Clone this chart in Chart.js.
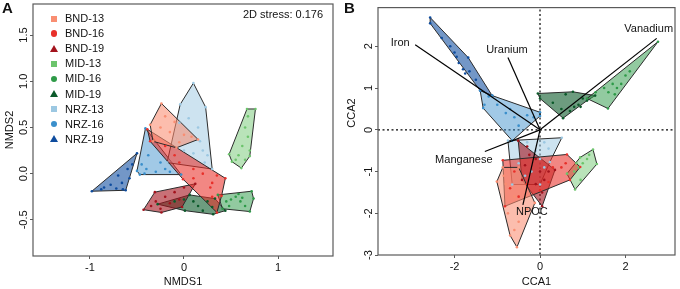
<!DOCTYPE html>
<html><head><meta charset="utf-8">
<script src="https://cdn.jsdelivr.net/npm/chart.js@4"></script>
<style>
body{margin:0;background:#fff;width:680px;height:289px;overflow:hidden;position:relative;font-family:"Liberation Sans",Arial,sans-serif;color:#111}
canvas{position:absolute;top:0}
#cA{left:0}#cB{left:340px}
.t{position:absolute;font-size:11px;white-space:nowrap;line-height:13px}
.pl{position:absolute;font-size:15px;font-weight:bold;line-height:15px}
.mk{position:absolute}
</style></head><body>
<canvas id="cA" width="340" height="289"></canvas>
<canvas id="cB" width="340" height="289"></canvas>
<div class="pl" style="left:2px;top:0px">A</div>
<div class="pl" style="left:344px;top:0px">B</div>
<div class="t" style="left:243px;top:8px">2D stress: 0.176</div>
<div id="legend"></div>
<script>
// ---------- tick labels ----------
const xTicksA = [-1, 0, 1];
const yTicksA = [-0.5, 0, 0.5, 1, 1.5];
const xTicksB = [-2, 0, 2];
const yTicksB = [-3, -2, -1, 0, 1, 2];

// ---------- groups ----------
const groupNames = ['BND-13','BND-16','BND-19','MID-13','MID-16','MID-19','NRZ-13','NRZ-16','NRZ-19'];
const groupShapes = ['rect','circle','triangle','rect','circle','triangle','rect','circle','triangle'];
const groupColors = ['#F98E72','#E8302A','#A3131D','#6CC46C','#2E9A48','#0B5A2A','#9CC8E2','#3A8FCB','#0E4C9E'];
const groupFills = ['rgba(249,142,114,0.58)','rgba(232,48,42,0.58)','rgba(163,19,29,0.6)','rgba(108,196,108,0.48)','rgba(46,154,72,0.52)','rgba(11,90,42,0.6)','rgba(156,200,226,0.5)','rgba(58,143,203,0.48)','rgba(14,76,158,0.58)'];

// ---------- Panel A (NMDS) hulls and points ----------
const A_BND13_hull = [[-0.24,0.76],[0.15,0.37],[-0.08,0.28],[-0.33,0.35],[-0.36,0.53]];
const A_BND13_pts  = [[-0.2,0.62],[-0.25,0.5],[-0.15,0.45],[-0.1,0.56],[0.0,0.42],[-0.05,0.34],[0.08,0.4]];
const A_BND16_hull = [[-0.39,0.48],[0.44,-0.05],[0.40,-0.24],[0.35,-0.42],[-0.01,-0.06],[-0.36,0.35]];
const A_BND16_pts  = [[-0.2,0.3],[-0.1,0.2],[0.1,0.05],[0.2,0.0],[0.3,-0.1],[0.35,-0.02],[0.3,-0.25],[0.1,-0.05],[-0.05,0.12],[0.28,-0.15]];
const A_BND19_hull = [[-0.31,-0.20],[0.12,-0.11],[-0.02,-0.36],[-0.24,-0.42],[-0.43,-0.39]];
const A_BND19_pts  = [[-0.35,-0.35],[-0.3,-0.3],[-0.2,-0.25],[-0.1,-0.2],[-0.05,-0.28],[-0.25,-0.38],[0.0,-0.15],[-0.15,-0.32]];
const A_MID13_hull = [[0.67,0.70],[0.76,0.70],[0.70,0.19],[0.61,0.06],[0.51,0.13],[0.48,0.21]];
const A_MID13_pts  = [[0.68,0.62],[0.65,0.5],[0.68,0.4],[0.62,0.3],[0.58,0.2],[0.65,0.15],[0.7,0.25],[0.55,0.15]];
const A_MID16_hull = [[0.36,-0.23],[0.72,-0.19],[0.74,-0.27],[0.70,-0.41],[0.41,-0.38]];
const A_MID16_pts  = [[0.45,-0.3],[0.5,-0.28],[0.55,-0.25],[0.6,-0.3],[0.65,-0.35],[0.58,-0.22],[0.48,-0.35],[0.62,-0.26]];
const A_MID19_hull = [[-0.28,-0.33],[0.06,-0.23],[0.33,-0.27],[0.44,-0.40],[0.31,-0.44],[0.01,-0.40]];
const A_MID19_pts  = [[-0.1,-0.3],[0.0,-0.28],[0.1,-0.3],[0.15,-0.35],[0.25,-0.3],[0.2,-0.4],[0.3,-0.36]];
const A_NRZ13_hull = [[0.10,0.98],[0.23,0.72],[0.30,0.05],[-0.18,0.12],[-0.04,0.75]];
const A_NRZ13_pts  = [[0.05,0.6],[0.15,0.5],[0.2,0.25],[0.25,0.2],[0.1,0.22],[0.0,0.25],[0.22,0.12],[-0.05,0.55],[0.17,0.35]];
const A_NRZ16_hull = [[-0.41,0.49],[-0.50,0.03],[-0.47,-0.01],[-0.03,-0.01]];
const A_NRZ16_pts  = [[-0.45,0.1],[-0.4,0.05],[-0.38,0.2],[-0.3,0.02],[-0.2,0.05],[-0.15,0.02],[-0.42,0.0],[-0.25,0.12]];
const A_NRZ19_hull = [[-0.98,-0.19],[-0.50,0.22],[-0.62,-0.18]];
const A_NRZ19_pts  = [[-0.85,-0.15],[-0.78,-0.12],[-0.72,-0.16],[-0.66,-0.1],[-0.7,-0.02],[-0.6,0.05],[-0.58,-0.05],[-0.55,0.1],[-0.88,-0.17],[-0.65,-0.17]];

// ---------- Panel B (CCA) hulls and points ----------
const B_BND13_hull = [[-0.87,-0.9],[-1.01,-1.24],[-0.70,-2.53],[-0.54,-2.81],[-0.12,-1.75],[-0.5,-0.9]];
const B_BND13_pts  = [[-0.8,-1.3],[-0.6,-1.6],[-0.75,-2.0],[-0.5,-2.2],[-0.6,-2.4],[-0.3,-1.9],[-0.85,-1.1]];
const B_BND16_hull = [[-0.87,-0.73],[0.63,-0.59],[0.94,-0.89],[0.70,-1.20],[-0.82,-1.83]];
const B_BND16_pts  = [[-0.6,-1.0],[-0.3,-1.3],[0.3,-0.9],[0.5,-0.9],[0.6,-0.8],[-0.5,-1.6],[0.0,-1.45],[-0.7,-1.4],[0.2,-1.25]];
const B_BND19_hull = [[-0.51,-0.26],[0.35,-0.96],[0.05,-1.83],[-0.42,-1.2]];
const B_BND19_pts  = [[-0.3,-0.4],[-0.25,-0.6],[-0.1,-0.7],[-0.35,-0.85],[0.0,-1.0],[0.1,-1.2],[-0.1,-1.3],[0.2,-1.0],[0.05,-1.5]];
const B_MID13_hull = [[0.63,-1.05],[0.94,-0.66],[1.24,-0.47],[1.33,-0.82],[0.82,-1.43]];
const B_MID13_pts  = [[0.8,-1.0],[0.9,-0.9],[1.0,-0.8],[1.1,-0.7],[1.15,-0.6],[0.95,-1.2],[0.85,-0.8]];
const B_MID16_hull = [[2.76,2.11],[1.59,0.51],[1.10,0.75]];
const B_MID16_pts  = [[1.5,1.0],[1.7,1.1],[1.9,1.1],[1.8,1.0],[2.0,1.3],[1.6,0.9],[1.75,0.85],[2.1,1.4],[1.3,0.9]];
const B_MID19_hull = [[-0.05,0.87],[0.77,0.91],[1.29,0.82],[1.10,0.70],[0.54,0.28],[0,0.75]];
const B_MID19_pts  = [[0.3,0.65],[0.6,0.85],[0.8,0.55],[0.9,0.6],[0.7,0.45],[1.0,0.75],[0.5,0.5],[0.95,0.55]];
const B_NRZ13_hull = [[-0.75,-0.26],[0.51,-0.19],[0.23,-0.77],[0,-1.31],[-0.65,-1.31]];
const B_NRZ13_pts  = [[-0.3,-0.3],[0.1,-0.3],[0.2,-0.45],[-0.1,-0.5],[0.0,-0.7],[-0.5,-0.8],[-0.2,-1.0],[0.1,-0.9],[-0.35,-1.1]];
const B_NRZ16_hull = [[-1.40,0.94],[-1.12,0.82],[0,0.42],[0,0.33],[-0.65,-0.26],[-1.33,0.52]];
const B_NRZ16_pts  = [[-1.2,0.8],[-1.3,0.6],[-1.0,0.6],[-0.8,0.4],[-0.6,0.3],[-0.3,0.35],[-0.15,0.3],[-0.5,0.1],[-0.7,0.5]];
const B_NRZ19_hull = [[-2.57,2.69],[-1.68,1.73],[-1.12,0.82],[-1.40,0.94],[-2.57,2.55]];
const B_NRZ19_pts  = [[-2.3,2.2],[-2.1,2.0],[-1.95,1.75],[-1.9,1.6],[-1.8,1.45],[-1.65,1.4],[-1.75,1.35],[-2.0,1.85],[-1.5,1.2]];

// ---------- Panel B environmental vectors ----------
const envNames = ['Iron','Uranium','Vanadium','Manganese','NPOC'];
const envX = [-2.92, -0.75, 2.73, -1.29, -0.40];
const envY = [2.04, 1.73, 2.19, -0.52, -1.80];

const hullsA = [A_BND13_hull,A_BND16_hull,A_BND19_hull,A_MID13_hull,A_MID16_hull,A_MID19_hull,A_NRZ13_hull,A_NRZ16_hull,A_NRZ19_hull];
const ptsA   = [A_BND13_pts,A_BND16_pts,A_BND19_pts,A_MID13_pts,A_MID16_pts,A_MID19_pts,A_NRZ13_pts,A_NRZ16_pts,A_NRZ19_pts];
const hullsB = [B_BND13_hull,B_BND16_hull,B_BND19_hull,B_MID13_hull,B_MID16_hull,B_MID19_hull,B_NRZ13_hull,B_NRZ16_hull,B_NRZ19_hull];
const ptsB   = [B_BND13_pts,B_BND16_pts,B_BND19_pts,B_MID13_pts,B_MID16_pts,B_MID19_pts,B_NRZ13_pts,B_NRZ16_pts,B_NRZ19_pts];

const toXY = a => a.map(p => ({x:p[0], y:p[1]}));
const FONT = '"Liberation Sans", Arial, sans-serif';

function groupDatasets(hulls, pts){
  const pointSets = [], polySets = [];
  hulls.forEach((h,i)=>{
    pointSets.push({data: toXY(h.concat(pts[i])), showLine:false, pointRadius:1.3, pointBackgroundColor:groupColors[i], pointBorderWidth:0});
    polySets.push({data: toXY(h.concat([h[0]])), showLine:true, fill:'shape', backgroundColor:groupFills[i], borderColor:'#2b2b2b', borderWidth:1, pointRadius:0, tension:0});
  });
  return pointSets.concat(polySets);
}

const boxPlugin = {id:'box', afterDatasetsDraw(chart){
  const {ctx, chartArea:a} = chart;
  ctx.save(); ctx.strokeStyle='#5a5a5a'; ctx.lineWidth=1.2;
  ctx.strokeRect(a.left, a.top, a.right-a.left, a.bottom-a.top); ctx.restore();
}};

const labelOffsets = [[-15,-2],[-1,-8],[-8,-9],[-21,8],[9,7]];
const envLabelPlugin = {id:'envlab', afterDatasetsDraw(chart){
  const {ctx, scales, chartArea:a} = chart;
  ctx.save(); ctx.font='11px ' + FONT; ctx.fillStyle='#111';
  ctx.textAlign='center'; ctx.textBaseline='middle';
  envNames.forEach((n,i)=>{
    const px = scales.x.getPixelForValue(envX[i]) + labelOffsets[i][0];
    const py = scales.y.getPixelForValue(envY[i]) + labelOffsets[i][1];
    ctx.fillText(n, px, py);
  });
  // axis titles
  ctx.fillText('CCA1', (a.left + a.right)/2 + 10, 282);
  ctx.translate(12, 113); ctx.rotate(-Math.PI/2); ctx.fillText('CCA2', 0, 0);
  ctx.restore();
}};

function axisCfg(ticksArr, min, max, isY, fitSize, pad, fmt){
  return {
    type:'linear', min, max,
    afterBuildTicks: s => { s.ticks = ticksArr.map(v=>({value:v})); },
    afterFit: s => { if(isY) s.width = fitSize; else s.height = fitSize; },
    grid:{display:true, drawOnChartArea:false, drawTicks:true, tickLength:3, color:'#5a5a5a', lineWidth:1},
    border:{display:false},
    ticks: Object.assign({color:'#111', font:{size:11, family:FONT}, padding:pad,
      callback: v => fmt(v)}, isY ? {minRotation:90, maxRotation:90, crossAlign:'center'} : {maxRotation:0})
  };
}

const baseOpts = {responsive:false, animation:false, events:[], plugins:{legend:{display:false}, tooltip:{enabled:false}}};

// ---------- Chart A ----------
const xA = axisCfg(xTicksA, -1.606, 1.585, false, 33, 2, v=>String(v));
xA.title = {display:true, text:'NMDS1', color:'#111', font:{size:11, family:FONT}, padding:{top:0,bottom:0}};
const yA = axisCfg(yTicksA, -0.891, 1.836, true, 33, -3.5, v=>v.toFixed(1));
yA.title = {display:true, text:'NMDS2', color:'#111', font:{size:11, family:FONT}, padding:{top:3,bottom:0}};
new Chart(document.getElementById('cA'), {
  type:'scatter',
  data:{datasets: groupDatasets(hullsA, ptsA)},
  options: Object.assign({}, baseOpts, {layout:{padding:{left:0,right:7,top:1,bottom:0}}, scales:{x:xA, y:yA}}),
  plugins:[boxPlugin]
});

// ---------- Chart B ----------
const arrowSets = envNames.map((n,i)=>({data:[{x:0,y:0},{x:envX[i],y:envY[i]}], showLine:true, borderColor:'#000', borderWidth:1.2, pointRadius:0, fill:false}));
const refLines = [
  {data:[{x:0,y:-3.2},{x:0,y:3.2}], showLine:true, borderColor:'#000', borderWidth:1.2, borderDash:[2,2.5], pointRadius:0, fill:false},
  {data:[{x:-4,y:0},{x:3.3,y:0}], showLine:true, borderColor:'#000', borderWidth:1.2, borderDash:[2,2.5], pointRadius:0, fill:false}
];
const xB = axisCfg(xTicksB, -3.79, 3.158, false, 34, 2, v=>String(v));
const yB = axisCfg(yTicksB, -2.998, 2.927, true, 38, 1, v=>String(v));
new Chart(document.getElementById('cB'), {
  type:'scatter',
  data:{datasets: arrowSets.concat(groupDatasets(hullsB, ptsB)).concat(refLines)},
  options: Object.assign({}, baseOpts, {layout:{padding:{left:0,right:5,top:2,bottom:0}}, scales:{x:xB, y:yB}}),
  plugins:[boxPlugin, envLabelPlugin]
});

// ---------- legend (panel A) ----------
const leg = document.getElementById('legend');
groupNames.forEach((n,i)=>{
  const cy = 18.5 + 15.1*i;
  const m = document.createElement('div'); m.className='mk';
  const c = groupColors[i];
  if(groupShapes[i]==='rect'){ m.style.cssText=`left:50.5px;top:${cy-3}px;width:6px;height:6px;background:${c}`; }
  else if(groupShapes[i]==='circle'){ m.style.cssText=`left:50.5px;top:${cy-3.25}px;width:6.5px;height:6.5px;border-radius:50%;background:${c}`; }
  else { m.style.cssText=`left:49.5px;top:${cy-4}px;width:0;height:0;border-left:4px solid transparent;border-right:4px solid transparent;border-bottom:7px solid ${c}`; }
  leg.appendChild(m);
  const t = document.createElement('div'); t.className='t'; t.textContent=n;
  t.style.left='65px'; t.style.top=(cy-6.5)+'px';
  leg.appendChild(t);
});
</script>
</body></html>
